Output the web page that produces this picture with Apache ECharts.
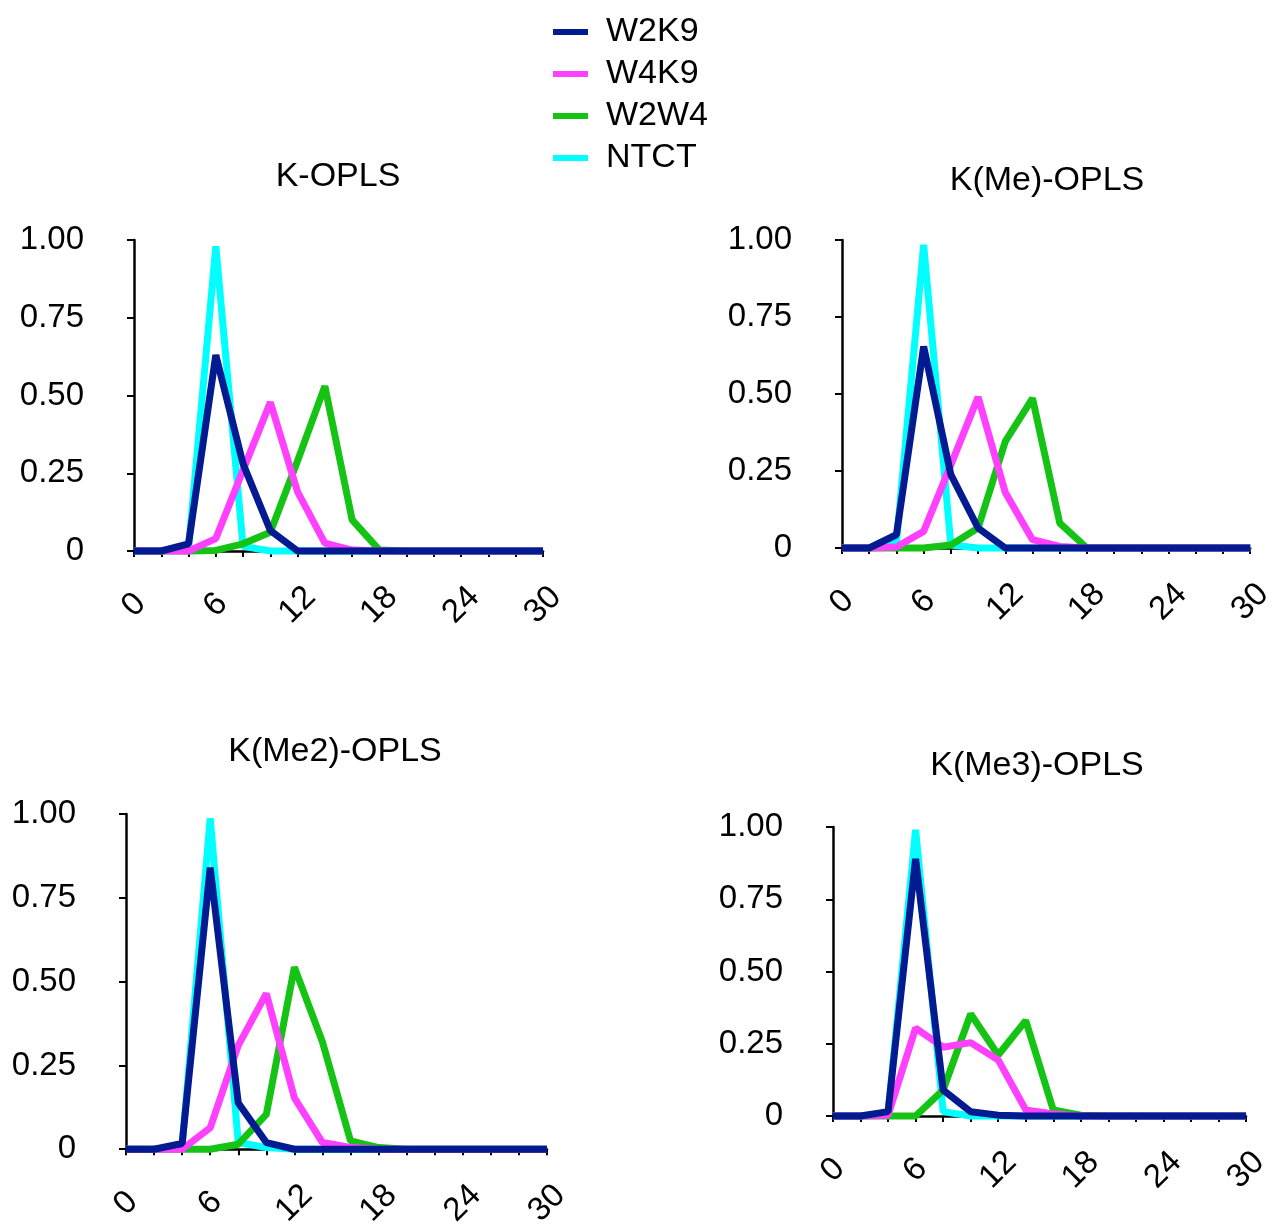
<!DOCTYPE html>
<html>
<head>
<meta charset="utf-8">
<script src="https://cdn.jsdelivr.net/npm/echarts@6/dist/echarts.min.js"></script>
<style>
  html, body { margin: 0; padding: 0; background: #fff; }
  #chart { width: 1277px; height: 1230px; }
</style>
</head>
<body>
<div id="chart"></div>
<script>
// x positions (distance), same for every panel
const xs = [0, 2, 4, 6, 8, 10, 12, 14, 16, 18, 20, 22, 24, 26, 28, 30]
const seriesNames = ['W2K9', 'W4K9', 'W2W4', 'NTCT']
const panelTitles = ['K-OPLS', 'K(Me)-OPLS', 'K(Me2)-OPLS', 'K(Me3)-OPLS']
const yTicks = [0, 0.25, 0.5, 0.75, 1]

// K-OPLS
const kW2K9 = [0, 0, 0.023, 0.63, 0.28, 0.066, 0, 0, 0, 0, 0, 0, 0, 0, 0, 0]
const kW4K9 = [0, 0, 0, 0.04, 0.26, 0.478, 0.19, 0.025, 0.003, 0, 0, 0, 0, 0, 0, 0]
const kW2W4 = [0, 0, 0, 0.002, 0.023, 0.06, 0.29, 0.53, 0.1, 0.003, 0, 0, 0, 0, 0, 0]
const kNTCT = [0, 0, 0.01, 0.98, 0.015, 0, 0, 0, 0, 0, 0, 0, 0, 0, 0, 0]
// K(Me)-OPLS
const meW2K9 = [0, 0, 0.043, 0.654, 0.238, 0.065, 0, 0, 0, 0, 0, 0, 0, 0, 0, 0]
const meW4K9 = [0, 0, 0.003, 0.054, 0.27, 0.49, 0.18, 0.027, 0.005, 0, 0, 0, 0, 0, 0, 0]
const meW2W4 = [0, 0, 0, 0, 0.01, 0.065, 0.346, 0.486, 0.081, 0, 0, 0, 0, 0, 0, 0]
const meNTCT = [0, 0, 0.02, 0.984, 0.01, 0, 0, 0, 0, 0, 0, 0, 0, 0, 0, 0]
// K(Me2)-OPLS
const me2W2K9 = [0, 0, 0.017, 0.84, 0.138, 0.02, 0, 0, 0, 0, 0, 0, 0, 0, 0, 0]
const me2W4K9 = [0, 0, 0, 0.064, 0.31, 0.464, 0.153, 0.02, 0.005, 0, 0, 0, 0, 0, 0, 0]
const me2W2W4 = [0, 0, 0, 0, 0.015, 0.104, 0.543, 0.32, 0.025, 0.005, 0, 0, 0, 0, 0, 0]
const me2NTCT = [0, 0, 0.01, 0.987, 0.02, 0.005, 0, 0, 0, 0, 0, 0, 0, 0, 0, 0]
// K(Me3)-OPLS
const me3W2K9 = [0, 0, 0.015, 0.89, 0.09, 0.015, 0.003, 0, 0, 0, 0, 0, 0, 0, 0, 0]
const me3W4K9 = [0, 0, 0.003, 0.304, 0.238, 0.254, 0.194, 0.021, 0.007, 0, 0, 0, 0, 0, 0, 0]
const me3W2W4 = [0, 0, 0, 0, 0.09, 0.353, 0.211, 0.33, 0.021, 0.003, 0, 0, 0, 0, 0, 0]
const me3NTCT = [0, 0, 0.01, 0.99, 0.015, 0, 0, 0, 0, 0, 0, 0, 0, 0, 0, 0]

const panelData = [
  [kW2K9, kW4K9, kW2W4, kNTCT],
  [meW2K9, meW4K9, meW2W4, meNTCT],
  [me2W2K9, me2W4K9, me2W2W4, me2NTCT],
  [me3W2K9, me3W4K9, me3W2W4, me3NTCT]
]

const colors = { W2K9: '#031a90', W4K9: '#ff40ff', W2W4: '#14c314', NTCT: '#00ffff' }
const fontFamily = '"Liberation Sans", Arial, sans-serif'

// 四个子图的位置
const grids = [
  { left: 134, top: 240, width: 409, height: 311 },
  { left: 842, top: 240, width: 413, height: 308 },
  { left: 126, top: 814, width: 421, height: 338 },
  { left: 833, top: 827, width: 413, height: 289 }
]
const titlePos = [[338, 177], [1047, 181], [335, 752], [1037, 766]]

const xAxes = grids.map((g, i) => ({
  type: 'value',
  gridIndex: i,
  min: 0,
  max: 30,
  interval: 6,
  axisLine: { show: true, lineStyle: { color: '#000', width: 2.5 } },
  axisTick: { show: true, length: 6, lineStyle: { color: '#000', width: 2 } },
  minorTick: { show: true, splitNumber: 3, length: 6, lineStyle: { color: '#000', width: 2 } },
  splitLine: { show: false },
  minorSplitLine: { show: false },
  axisLabel: {
    rotate: 45,
    align: 'center',
    verticalAlign: 'middle',
    margin: 54,
    color: '#000',
    fontSize: 33,
    fontFamily: fontFamily
  }
}))

const yAxes = grids.map((g, i) => ({
  type: 'value',
  gridIndex: i,
  min: yTicks[0],
  max: yTicks[yTicks.length - 1],
  interval: 0.25,
  axisLine: { show: true, lineStyle: { color: '#000', width: 2.5 } },
  axisTick: { show: true, length: 7, lineStyle: { color: '#000', width: 2 } },
  splitLine: { show: false },
  axisLabel: {
    margin: 50,
    color: '#000',
    fontSize: 33,
    fontFamily: fontFamily,
    formatter: (v) => (v === 0 ? '0' : v.toFixed(2))
  }
}))

// 绘制顺序：NTCT 最底层，W2K9 最上层
const drawOrder = [3, 2, 1, 0]
const series = []
panelData.forEach((arrs, p) => {
  drawOrder.forEach((k) => {
    const name = seriesNames[k]
    series.push({
      type: 'line',
      name: name,
      xAxisIndex: p,
      yAxisIndex: p,
      data: xs.map((x, j) => [x, arrs[k][j]]),
      symbol: 'none',
      clip: false,
      lineStyle: { color: colors[name], width: 7 },
      itemStyle: { color: colors[name] }
    })
  })
})

const graphics = panelTitles.map((t, i) => ({
  type: 'text',
  x: titlePos[i][0],
  y: titlePos[i][1],
  style: {
    text: t,
    fill: '#000',
    font: '34px ' + fontFamily,
    align: 'center',
    verticalAlign: 'middle'
  }
}))

const chart = echarts.init(document.getElementById('chart'), null, { renderer: 'canvas' })
chart.setOption({
  backgroundColor: '#fff',
  animation: false,
  legend: {
    data: seriesNames,
    orient: 'vertical',
    left: 548,
    top: 10,
    itemWidth: 35,
    itemHeight: 6,
    itemGap: 8,
    icon: 'rect',
    textStyle: { color: '#000', fontSize: 34, fontFamily: fontFamily, padding: [0, 0, 0, 13] }
  },
  grid: grids,
  xAxis: xAxes,
  yAxis: yAxes,
  series: series,
  graphic: graphics
})
</script>
</body>
</html>
